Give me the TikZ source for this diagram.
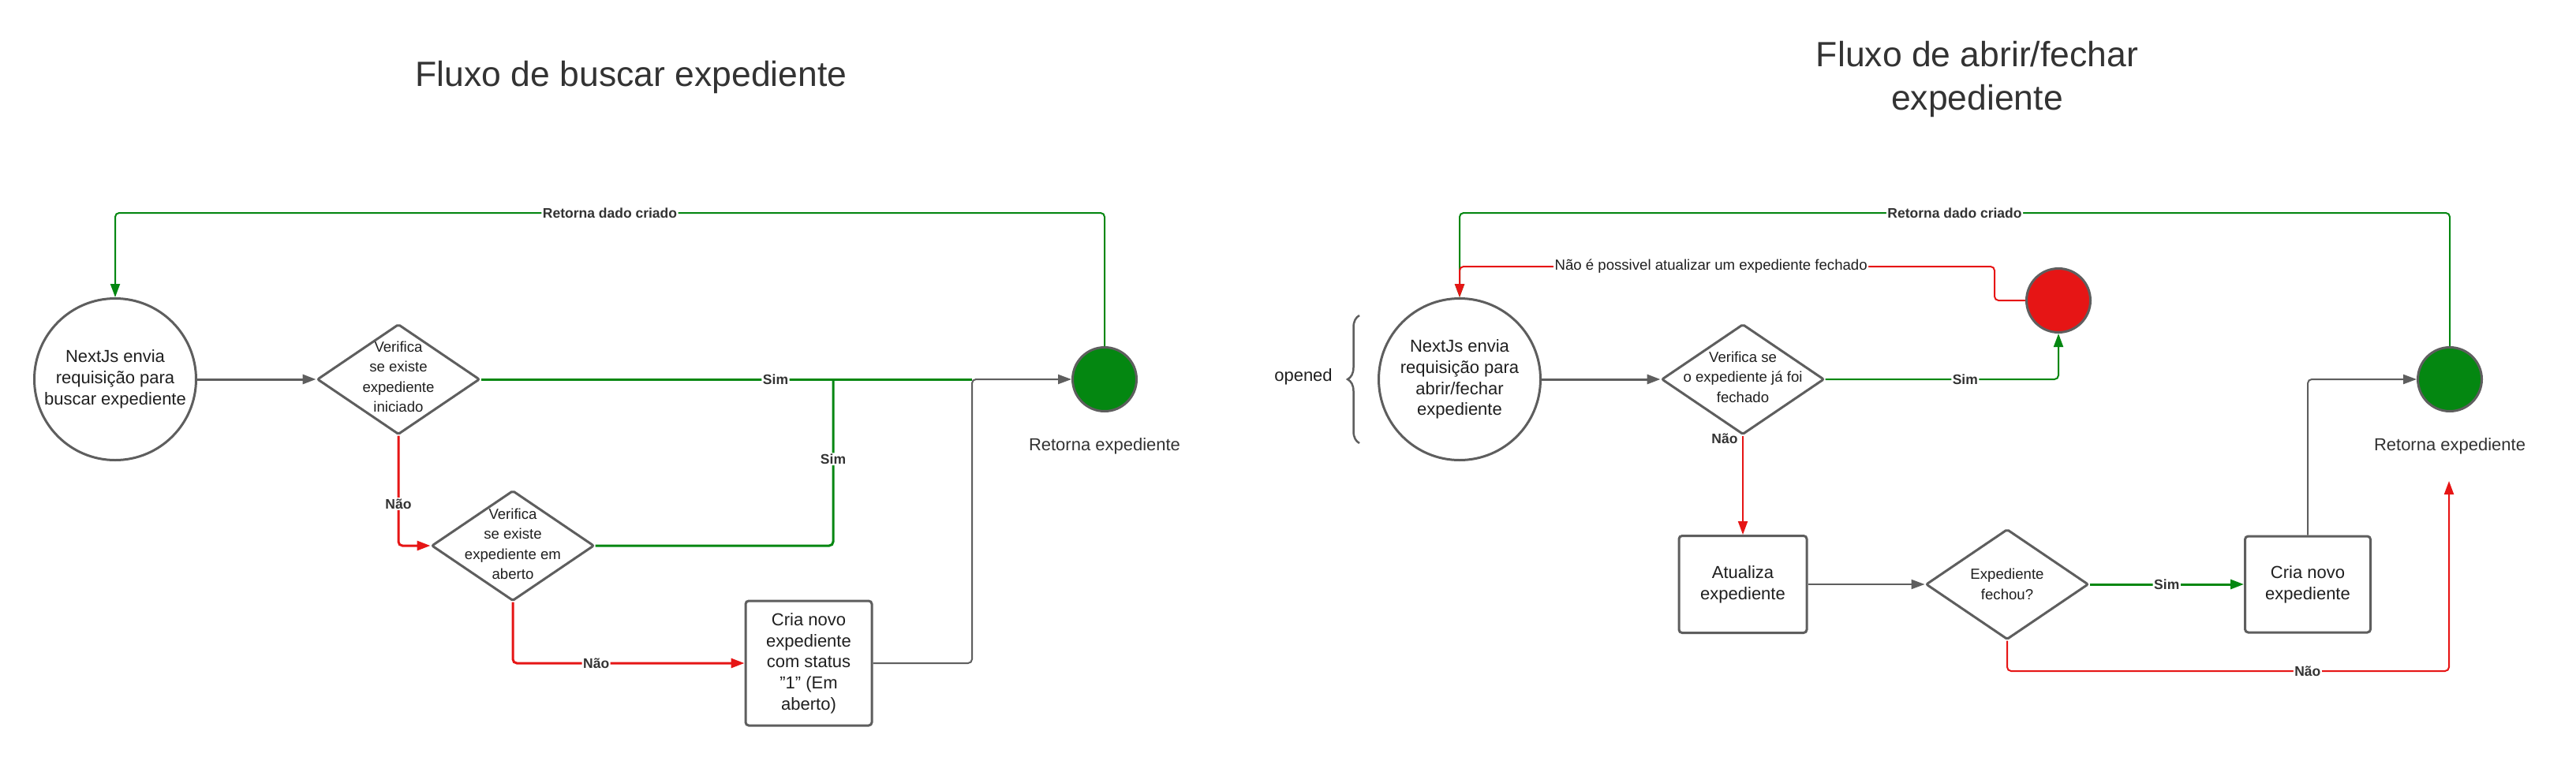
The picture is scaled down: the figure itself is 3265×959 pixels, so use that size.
\documentclass[tikz,border=0pt]{standalone}
\usepackage{fontspec}
\setmainfont{Liberation Sans}
\usetikzlibrary{arrows.meta,shapes.geometric,decorations.pathreplacing}
\definecolor{lgray}{HTML}{5E5E5E}
\definecolor{lgreen}{RGB}{4,135,17}
\definecolor{lred}{RGB}{230,21,21}
\definecolor{ltext}{HTML}{333333}
\begin{document}
\begin{tikzpicture}[x=1pt,y=-1pt,
  shapeline/.style={draw=lgray, line width=3pt},
  startcirc/.style={shapeline, circle, minimum size=205pt, inner sep=0pt, align=center, font=\fontsize{22}{26.7}\selectfont, fill=white, text=black!88},
  endcirc/.style={shapeline, circle, minimum size=81pt, inner sep=0pt},
  decision/.style={shapeline, diamond, minimum width=206pt, minimum height=140pt, inner sep=0pt, rounded corners=2pt, fill=white},
  dectext/.style={align=center, font=\fontsize{18.6}{25.5}\selectfont, inner sep=0pt, text=black!88},
  procbox/.style={shapeline, rectangle, rounded corners=4pt, align=center, font=\fontsize{22}{26.7}\selectfont, inner sep=0pt, fill=white, text=black!88},
  conn/.style={line width=2pt, rounded corners=5pt},
  connb/.style={line width=3pt, rounded corners=5pt},
  arr/.style={-{Triangle[length=17pt,width=12pt]}},
  lbl/.style={fill=white, inner sep=1.5pt, text=ltext, font=\fontsize{17.5}{20}\selectfont\bfseries},
  lblr/.style={fill=white, inner sep=1.5pt, text=black!88, font=\fontsize{18.6}{21}\selectfont},
  outtext/.style={text=ltext, font=\fontsize{22}{26.7}\selectfont, inner sep=0pt},
  titletext/.style={text=ltext, font=\fontsize{44.5}{55}\selectfont, align=center, inner sep=0pt}
]
\fill[white] (0,0) rectangle (3265,959);
\useasboundingbox (0,0) rectangle (3265,959);

% ---------- titles
\node[titletext, anchor=base] (t1) at (800,109) {Fluxo de buscar expediente};
\node[titletext] (t2) at (2506,100) {Fluxo de abrir/fechar\\expediente};

% ---------- left flow
\coordinate (topL) at (0,270);
\coordinate (jxL) at (1232,0);
\coordinate (jgL) at (1056,481);

\node[startcirc] (c1) at (146,481) {NextJs envia\\requisição para\\buscar expediente};
\node[decision] (d1) at (505,481) {};
\node[dectext] (d1t) at (505,478) {Verifica\\se existe\\expediente\\iniciado};
\node[decision] (d2) at (650,692) {};
\node[dectext] (d2t) at (650,690) {Verifica\\se existe\\expediente em\\aberto};
\node[procbox, minimum width=160pt, minimum height=158pt] (b1) at (1025,841) {Cria novo\\expediente\\com status\\\symbol{34}1\symbol{34} (Em\\aberto)};
\node[endcirc, fill=lgreen] (eL) at (1400,481) {};
\node[outtext, anchor=base] (eLt) at (1400,571) {Retorna expediente};

\draw[connb, lgray, arr] (c1.east) -- (d1.west);
\draw[connb, lgreen] (d1.east) -- node[lbl, pos=0.6]{Sim} (d1.east -| jxL);
\draw[connb, lred, arr] (d1.south) |- node[lbl, pos=0.31]{Não} (d2.west);
\draw[connb, lgreen] (d2.east) -| node[lbl, pos=0.76]{Sim} (jgL);
\draw[connb, lred, arr] (d2.south) |- node[lbl, pos=0.68]{Não} (b1.west);
\draw[conn, lgray, arr] (b1.east) -- (b1.east -| jxL) -- (eL.west -| jxL) -- (eL.west);
\draw[conn, lgreen, arr] (eL.north) -- (eL.north |- topL) -- node[lbl]{Retorna dado criado} (c1.north |- topL) -- (c1.north);

% ---------- right flow
\coordinate (topR) at (0,270);
\coordinate (redY) at (0,338);
\coordinate (redX) at (2528,0);
\coordinate (botR) at (0,851);
\coordinate (tipR) at (3104,610);

\node[text=black!88, font=\fontsize{22}{26.7}\selectfont, inner sep=0pt] (op) at (1652,478) {opened};
\draw[lgray, line width=2.5pt, decorate, decoration={brace, amplitude=15pt}] (1723,562) -- (1723,400);

\node[startcirc] (c2) at (1850,481) {NextJs envia\\requisição para\\abrir/fechar\\expediente};
\node[decision] (d3) at (2209,481) {};
\node[dectext] (d3t) at (2209,478) {Verifica se\\o expediente já foi\\fechado};
\node[endcirc, fill=lred] (rC) at (2609,381) {};
\node[endcirc, fill=lgreen] (eR) at (3105,481) {};
\node[outtext, anchor=base] (eRt) at (3105,571) {Retorna expediente};
\node[procbox, minimum width=162pt, minimum height=123pt] (a1) at (2209,741) {Atualiza\\expediente};
\node[decision] (d4) at (2544,741) {};
\node[dectext] (d4t) at (2544,741) {Expediente\\fechou?};
\node[procbox, minimum width=159pt, minimum height=122pt] (b2) at (2925,741) {Cria novo\\expediente};

\draw[connb, lgray, arr] (c2.east) -- (d3.west);
\draw[conn, lgreen, arr] (d3.east) -| node[lbl, pos=0.3]{Sim} (rC.south);
\draw[conn, lgreen, arr] (eR.north) -- (eR.north |- topR) -- node[lbl]{Retorna dado criado} (c2.north |- topR) -- (c2.north);
\draw[conn, lred, arr] (rC.west) -- (rC.west -| redX) -- (redX |- redY) -- node[lblr, pos=0.53]{Não é possivel atualizar um expediente fechado} (c2.north |- redY) -- (c2.north);
\draw[conn, lred, arr] (d3.south) -- node[lbl, fill=none, anchor=east, pos=0.03, xshift=-4pt]{Não} (a1.north);
\draw[conn, lgray, arr] (a1.east) -- (d4.west);
\draw[connb, lgreen, arr] (d4.east) -- node[lbl]{Sim} (b2.west);
\draw[conn, lgray, arr] (b2.north) |- (eR.west);
\draw[conn, lred, arr] (d4.south) -- (d4.south |- botR) -- node[lbl, pos=0.68]{Não} (tipR |- botR) -- (tipR);
\end{tikzpicture}
\end{document}
